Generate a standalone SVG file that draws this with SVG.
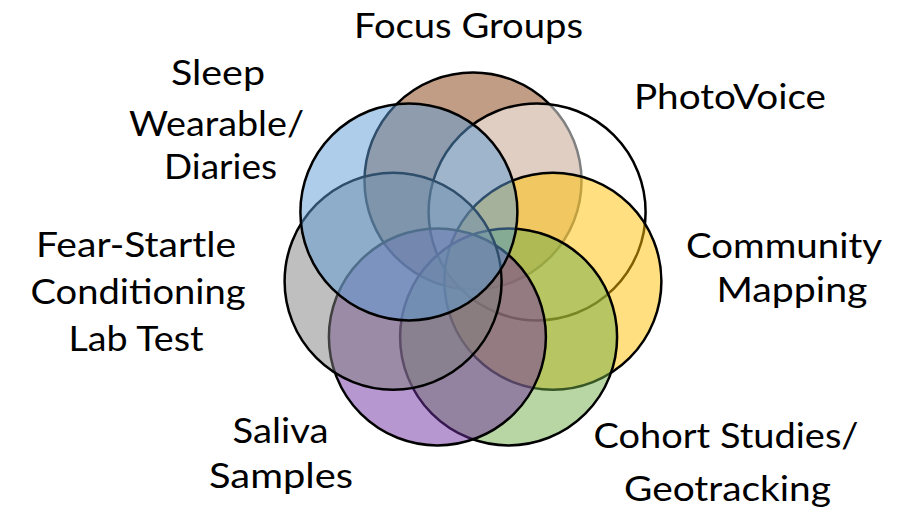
<svg xmlns="http://www.w3.org/2000/svg" width="912" height="523" viewBox="0 0 912 523">
  <style>
    .ring { stroke: #000; stroke-width: 2.5; fill-opacity: 0.5; }
    .label { font-family: Lato, "Open Sans", "Liberation Sans", sans-serif; font-size: 35px; fill: #000; text-anchor: middle; }
  </style>
  <rect width="912" height="523" fill="#fff"/>

  <!-- seven circles arranged on a heptagon around (473,263), drawn clockwise from the top -->
  <g id="focus-groups">
    <circle class="ring" cx="473" cy="181" r="108.5" fill="#843C0C"/>
    <text class="label" x="468.5" y="38" textLength="229" lengthAdjust="spacingAndGlyphs">Focus Groups</text>
  </g>
  <g id="photovoice">
    <circle class="ring" cx="537.1" cy="211.9" r="108.5" fill="#FFFFFF"/>
    <text class="label" x="730" y="109" textLength="192" lengthAdjust="spacingAndGlyphs">PhotoVoice</text>
  </g>
  <g id="community-mapping">
    <circle class="ring" cx="552.9" cy="281.2" r="108.5" fill="#FFC000"/>
    <text class="label" x="784" y="257.5" textLength="196" lengthAdjust="spacingAndGlyphs">Community</text>
    <text class="label" x="792" y="302" textLength="151" lengthAdjust="spacingAndGlyphs">Mapping</text>
  </g>
  <g id="cohort-studies">
    <circle class="ring" cx="508.6" cy="336.9" r="108.5" fill="#70AD47"/>
    <text class="label" x="726" y="448" textLength="265" lengthAdjust="spacingAndGlyphs">Cohort Studies/</text>
    <text class="label" x="727.5" y="501" textLength="207" lengthAdjust="spacingAndGlyphs">Geotracking</text>
  </g>
  <g id="saliva-samples">
    <circle class="ring" cx="437.4" cy="336.9" r="108.5" fill="#7030A0"/>
    <text class="label" x="280.5" y="443" textLength="96" lengthAdjust="spacingAndGlyphs">Saliva</text>
    <text class="label" x="281" y="488" textLength="144" lengthAdjust="spacingAndGlyphs">Samples</text>
  </g>
  <g id="fear-startle">
    <circle class="ring" cx="393.1" cy="281.2" r="108.5" fill="#7F7F7F"/>
    <text class="label" x="136" y="257" textLength="200" lengthAdjust="spacingAndGlyphs">Fear-Startle</text>
    <text class="label" x="138" y="303.5" textLength="215" lengthAdjust="spacingAndGlyphs">Conditioning</text>
    <text class="label" x="136" y="350.5" textLength="135" lengthAdjust="spacingAndGlyphs">Lab Test</text>
  </g>
  <g id="sleep">
    <circle class="ring" cx="408.9" cy="211.9" r="108.5" fill="#5B9BD5"/>
    <text class="label" x="218" y="84.5" textLength="94" lengthAdjust="spacingAndGlyphs">Sleep</text>
    <text class="label" x="216.5" y="136" textLength="175" lengthAdjust="spacingAndGlyphs">Wearable/</text>
    <text class="label" x="220.5" y="178.5" textLength="113" lengthAdjust="spacingAndGlyphs">Diaries</text>
  </g>

  <!-- no connectors in this figure -->
  <g id="connectors"/>
</svg>
